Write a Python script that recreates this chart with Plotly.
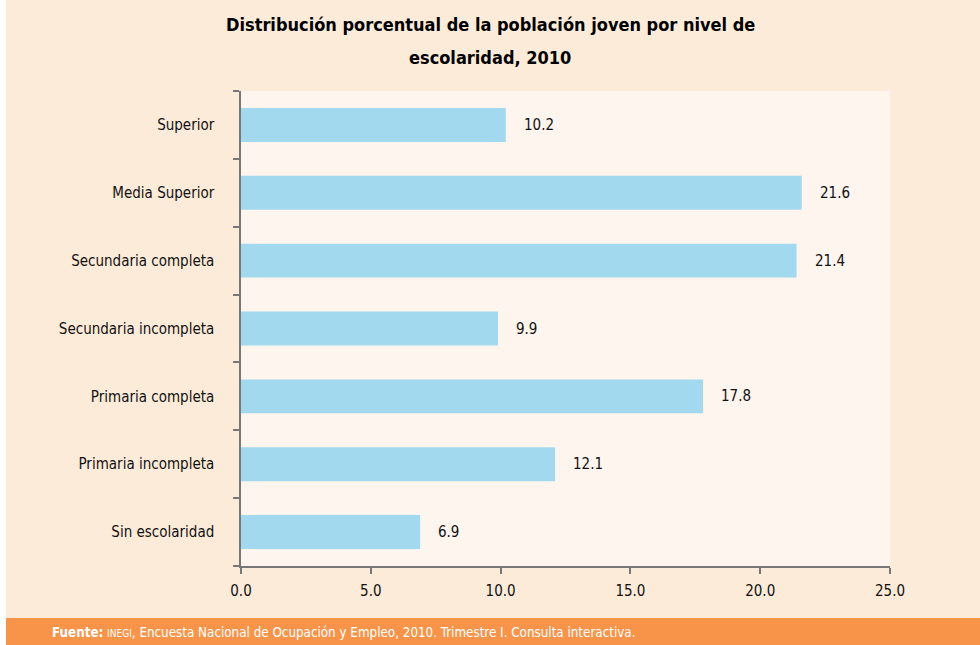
import plotly.graph_objects as go

categories = ["Sin escolaridad", "Primaria incompleta", "Primaria completa",
              "Secundaria incompleta", "Secundaria completa", "Media Superior", "Superior"]
values = [6.9, 12.1, 17.8, 9.9, 21.4, 21.6, 10.2]
value_labels = ["6.9", "12.1", "17.8", "9.9", "21.4", "21.6", "10.2"]
x_ticks = [0, 5, 10, 15, 20, 25]
x_tick_labels = ["0.0", "5.0", "10.0", "15.0", "20.0", "25.0"]
title_lines = ["Distribución porcentual de la población joven por nivel de",
               "escolaridad, 2010"]

FONT = "DejaVu Sans Condensed, Liberation Sans Narrow, sans-serif"
BG = "#FDEBDA"
PLOT_BG = "#FEF5EE"
BAR = "#A3D9EE"
ORANGE = "#F7944A"

L, R, T, B = 241, 90, 91, 79
PW, PH = 980 - L - R, 645 - T - B

def px_x(x):
    return (x - L) / PW

def px_y(y):
    return (645 - B - y) / PH

fig = go.Figure()
fig.add_trace(go.Bar(
    x=values, y=categories, orientation="h",
    marker=dict(color=BAR, line=dict(width=0)),
    hoverinfo="skip",
))

for v, c, t in zip(values, categories, value_labels):
    fig.add_annotation(x=v, y=c, text=t, showarrow=False, xanchor="left",
                       xshift=16, font=dict(family=FONT, size=15, color="#111"))

for line, ypx in zip(title_lines, [25, 58]):
    fig.add_annotation(
        xref="paper", yref="paper", x=px_x(490), y=px_y(ypx), yanchor="middle",
        text="<b>" + line + "</b>", showarrow=False,
        font=dict(family=FONT, size=18, color="#000"), align="center",
    )

shapes = [
    dict(type="rect", xref="paper", yref="paper", x0=px_x(6), x1=px_x(980),
         y0=px_y(645), y1=px_y(618), fillcolor=ORANGE, line=dict(width=0), layer="below"),
    dict(type="rect", xref="paper", yref="paper", x0=px_x(0), x1=px_x(6),
         y0=px_y(645), y1=px_y(0), fillcolor="white", line=dict(width=0), layer="below"),
]

fig.add_annotation(
    xref="paper", yref="paper", x=px_x(50), y=px_y(632), xanchor="left",
    yanchor="middle", showarrow=False,
    text="<b>Fuente:</b> <span style='font-size:10px'>INEGI</span>, Encuesta Nacional de Ocupación y Empleo, 2010. Trimestre I. Consulta interactiva.",
    font=dict(family=FONT, size=13.3, color="white"),
)

fig.update_layout(
    width=980, height=645,
    margin=dict(l=L, r=R, t=T, b=B),
    paper_bgcolor=BG, plot_bgcolor=PLOT_BG,
    bargap=0.5, showlegend=False,
    font=dict(family=FONT, size=15, color="#111"),
    xaxis=dict(range=[0, 25], tickvals=x_ticks, ticktext=x_tick_labels,
               showgrid=False, zeroline=False, showline=True, linecolor="#777",
               linewidth=1.5, ticks="outside", ticklen=6, tickcolor="#777",
               tickwidth=1.5, fixedrange=True, ticklabelstandoff=4),
    yaxis=dict(categoryorder="array", categoryarray=categories,
               showgrid=False, zeroline=False, showline=True, linecolor="#777",
               linewidth=1.5, ticks="outside", ticklen=6, tickcolor="#777",
               tickwidth=1.5, tickson="boundaries", ticklabelstandoff=22,
               fixedrange=True),
    shapes=shapes,
)

fig.write_html("out.html", config={"displayModeBar": False},
               post_script="document.body.style.margin='0';document.body.style.padding='0';")
